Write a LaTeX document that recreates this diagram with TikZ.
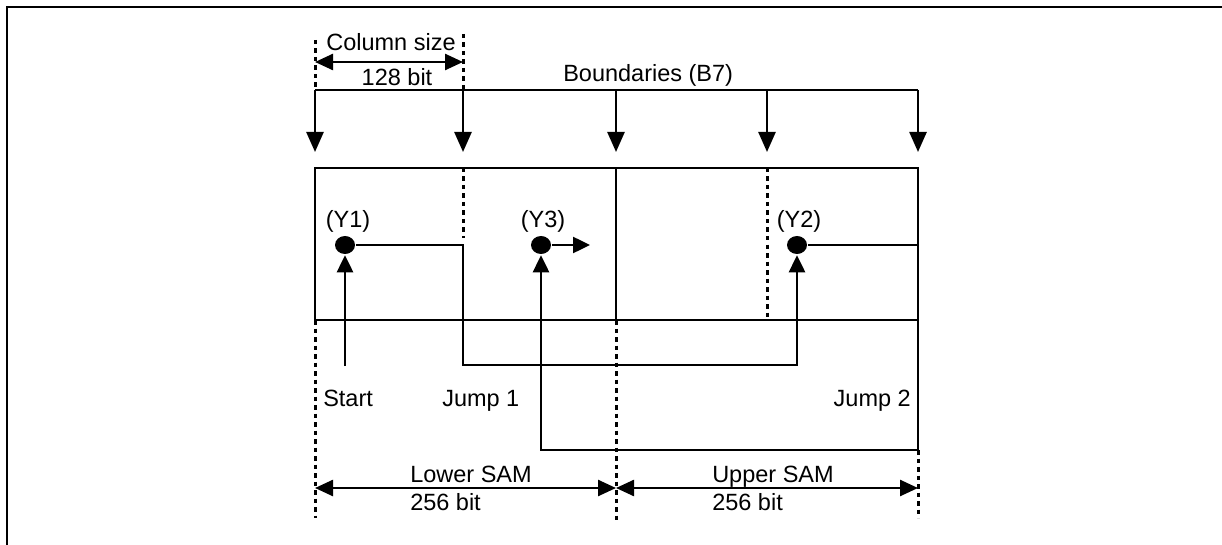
\documentclass[tikz,border=0pt]{standalone}
\usepackage{fontspec}
\setmainfont{Liberation Sans}
\usetikzlibrary{arrows.meta,positioning,calc,shapes.geometric}

\begin{document}
\begin{tikzpicture}[x=1pt,y=-1pt,line width=2.5pt,
  font=\fontsize{23.5}{28}\selectfont,
  guide/.style={line width=3pt,dash pattern=on 4.5pt off 4pt},
  tipdown/.style={-{Triangle[length=20pt,width=17pt]}},
  tipup/.style={-{Triangle[length=17pt,width=16pt]}},
  span/.style={{Triangle[length=18pt,width=16pt]}-{Triangle[length=18pt,width=16pt]}},
  addr/.style={ellipse,fill=black,inner sep=0pt,minimum width=20pt,minimum height=18pt},
  lbl/.style={inner sep=0pt}]
  \useasboundingbox (0,0) rectangle (1222,545);
  % frame
  \draw (7,545) -- (7,7) -- (1222,7);

  % boundaries
  \foreach \n/\x in {1/315,2/463,3/616,4/767,5/918}
    \coordinate (b\n) at (\x,90);
  \draw (b1) -- (b5);
  \foreach \n in {1,...,5}
    \draw[tipdown] (b\n) -- ++(0,62);
  \node[lbl,anchor=base west] (bnd) at (562,82) {Boundaries (B7)};

  % column size
  \coordinate (c1) at (315,40);
  \coordinate (c2) at (463,34);
  \draw[guide] (c1) -- (b1);
  \draw[guide] (c2) -- (b2);
  \draw[span] (315,62) -- (463,62);
  \node[lbl,anchor=base] (colsz) at (391,51) {Column size};
  \node[lbl,anchor=base] (colbit) at (397,86) {128 bit};

  % SAM array
  \coordinate (tl) at (315,168);
  \coordinate (br) at (918,320);
  \draw (tl) rectangle (br);
  \draw (616,168) -- (616,320);
  \draw[guide] (463,168) -- (463,238);
  \draw[guide] (767,168) -- (767,318);

  % addresses
  \node[addr] (y1) at (345,245) {};
  \node[addr] (y3) at (541,245) {};
  \node[addr] (y2) at (797,245) {};
  \node[lbl,anchor=base] at (348,228) {(Y1)};
  \node[lbl,anchor=base] at (543,228) {(Y3)};
  \node[lbl,anchor=base] at (799,228) {(Y2)};

  % jumps
  \coordinate (st) at (345,366);
  \coordinate (j1) at (463,245);
  \coordinate (j1b) at (463,365);
  \coordinate (j2) at (918,245);
  \coordinate (j2b) at (918,450);
  \coordinate (y3r) at (590,245);
  \draw[tipup] (st) -- (y1.south);
  \draw[tipup] (y1.east) -- (j1) -- (j1b) -| (y2.south);
  \draw[tipup] (y2.east) -- (j2) -- (j2b) -| (y3.south);
  \draw[tipup] (y3.east) -- (y3r);
  \node[lbl,anchor=base west] at (322,406) {Start};
  \node[lbl,anchor=base west] at (441,406) {Jump 1};
  \node[lbl,anchor=base east] at (912,406) {Jump 2};

  % SAM halves
  \draw[guide] (315,320) -- (315,518);
  \draw[guide] (616,320) -- (616,520);
  \draw[guide] (j2b) -- (918,518);
  \draw[span] (315,488) -- (616,488);
  \draw[span] (616,488) -- (918,488);
  \node[lbl,anchor=base west] at (409,482) {Lower SAM};
  \node[lbl,anchor=base west] at (409,510) {256 bit};
  \node[lbl,anchor=base west] at (711,482) {Upper SAM};
  \node[lbl,anchor=base west] at (711,510) {256 bit};
\end{tikzpicture}
\end{document}
